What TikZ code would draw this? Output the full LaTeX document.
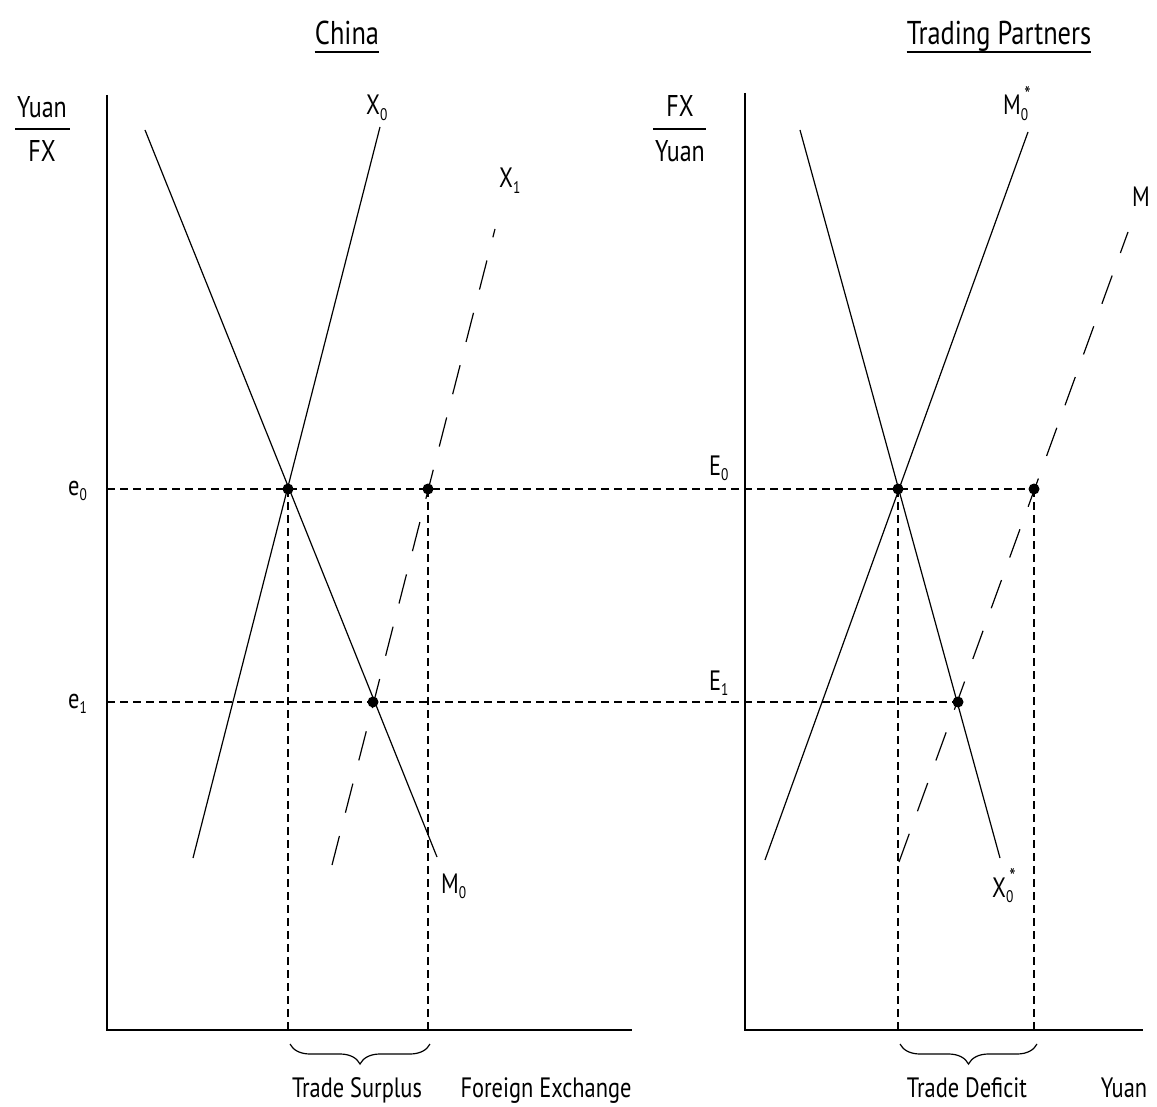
\documentclass[tikz,border=0pt]{standalone}
\usepackage{fontspec}
\setmainfont[FakeStretch=0.8]{PT Sans}
\usetikzlibrary{decorations.pathreplacing}
\newcommand\lsub[1]{\raisebox{-0.2em}{\scalebox{0.6}{#1}}}
\newcommand\lsubsup[2]{\makebox[0pt][l]{\raisebox{-0.2em}{\scalebox{0.6}{#1}}}\hspace{0.12em}\raisebox{0.45em}{\scalebox{0.8}{#2}}}
\begin{document}
\begin{tikzpicture}[x=1pt,y=-1pt,
  every node/.style={inner sep=0pt, font=\fontsize{28}{32}\selectfont},
  axis/.style={line width=1.4pt},
  curve/.style={line width=1.2pt},
  longdash/.style={line width=1.2pt, dash pattern=on 30pt off 24pt},
  guide/.style={line width=1.2pt, dash pattern=on 8pt off 5pt},
  dot/.style={circle, fill, inner sep=0pt, minimum size=11pt},
  lbl/.style={anchor=base west},
  ttl/.style={anchor=base},
  big/.style={anchor=base, font=\fontsize{33}{36}\selectfont},
  mid/.style={anchor=base, font=\fontsize{30}{34}\selectfont}]
\useasboundingbox (0,0) rectangle (1157,1107);

% axes
\coordinate (yL) at (107,95);
\coordinate (oL) at (107,1030);
\coordinate (xL) at (632,1030);
\coordinate (yR) at (745,93);
\coordinate (oR) at (745,1030);
\coordinate (xR) at (1143,1030);
\draw[axis] (yL) -- (oL) -- (xL);
\draw[axis] (yR) -- (oR) -- (xR);

% points
\coordinate (A) at (288,489);
\coordinate (B) at (428,489);
\coordinate (C) at (373,702);
\coordinate (P) at (898,489);
\coordinate (D) at (1034,489);
\coordinate (Q) at (958,702);
\coordinate (e0L) at (107,489);
\coordinate (e1L) at (107,702);

% curve ends
\coordinate (x0a) at (193,858);
\coordinate (x0b) at (380,127);
\coordinate (m0a) at (145,130);
\coordinate (m0b) at (437,857);
\coordinate (x1a) at (332,865);
\coordinate (x1b) at (495,229);
\coordinate (msa) at (765,860);
\coordinate (msb) at (1028,132);
\coordinate (xsa) at (800,130);
\coordinate (xsb) at (1000,858);
\coordinate (ma) at (899,862);
\coordinate (mb) at (1128,232);

% guides
\draw[guide] (e0L) -- (D);
\draw[guide] (e1L) -- (Q);
\draw[guide] (A) -- (A |- oL);
\draw[guide] (B) -- (B |- oL);
\draw[guide] (P) -- (P |- oR);
\draw[guide] (D) -- (D |- oR);

% curves
\draw[curve] (x0a) -- (x0b);
\draw[curve] (m0a) -- (m0b);
\draw[longdash] (x1a) -- (x1b);
\draw[curve] (msa) -- (msb);
\draw[curve] (xsa) -- (xsb);
\draw[longdash] (ma) -- (mb);

% dots
\node[dot] (dA) at (A) {};
\node[dot] (dB) at (B) {};
\node[dot] (dC) at (C) {};
\node[dot] (dP) at (P) {};
\node[dot] (dD) at (D) {};
\node[dot] (dQ) at (Q) {};

% titles
\coordinate (ul) at (0,52);
\node[big] (china) at (347,45) {China};
\draw[curve] (china.west |- ul) -- (china.east |- ul);
\node[big] (tp) at (999,45) {Trading Partners};
\draw[curve] (tp.west |- ul) -- (tp.east |- ul);

% axis fraction labels
\node[mid] (yuanL) at (42,118) {Yuan};
\node[mid] (fxL) at (42,162) {FX};
\coordinate (fl1) at (15,129);
\coordinate (fl2) at (70,129);
\draw[curve] (fl1) -- (fl2);
\node[mid] (fxR) at (680,117) {FX};
\node[mid] (yuanR) at (680,162) {Yuan};
\coordinate (fr1) at (653,129);
\coordinate (fr2) at (706,129);
\draw[curve] (fr1) -- (fr2);

% curve labels
\node[lbl] (lx0) at (366,115) {X\lsub{0}};
\node[lbl] (lx1) at (499,188) {X\lsub{1}};
\node[lbl] (lm0) at (441,893) {M\lsub{0}};
\node[lbl] (lms) at (1003,115) {M\lsubsup{0}{*}};
\node[lbl] (lm) at (1132,207) {M};
\node[lbl] (lxs) at (992,897) {X\lsubsup{0}{*}};
\node[lbl] (le0) at (68,495) {e\lsub{0}};
\node[lbl] (le1) at (68,708) {e\lsub{1}};
\node[lbl] (lE0) at (709,475) {E\lsub{0}};
\node[lbl] (lE1) at (709,690) {E\lsub{1}};

% braces
\coordinate (b1) at (290,1044);
\coordinate (b2) at (430,1044);
\coordinate (b3) at (900,1044);
\coordinate (b4) at (1037,1044);
\draw[curve, decorate, decoration={brace, mirror, amplitude=20pt, aspect=0.5}] (b1) -- (b2);
\draw[curve, decorate, decoration={brace, mirror, amplitude=20pt, aspect=0.5}] (b3) -- (b4);

% bottom labels
\node[ttl] (ts) at (357,1097) {Trade Surplus};
\node[ttl] (fe) at (546,1097) {Foreign Exchange};
\node[ttl] (td) at (967,1097) {Trade Deficit};
\node[ttl] (yu) at (1124,1097) {Yuan};
\end{tikzpicture}
\end{document}
